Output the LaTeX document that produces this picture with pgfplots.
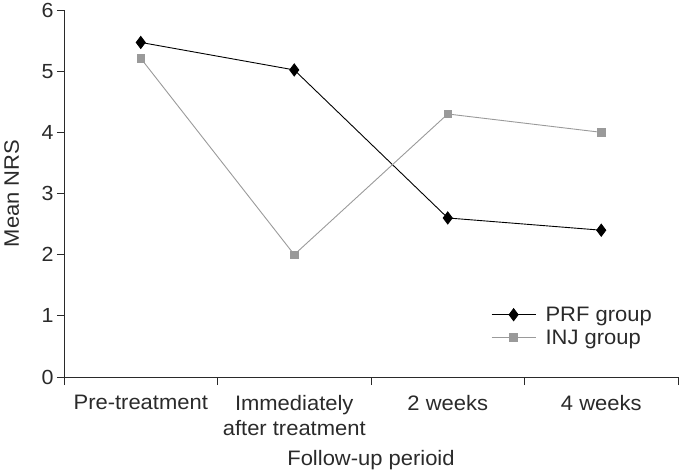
\documentclass[border=0pt]{standalone}
\usepackage{pgfplots}
\pgfplotsset{compat=1.18}
\usepackage{fontspec}
\setmainfont{Liberation Sans}[FakeStretch=1.05]
\definecolor{injgray}{HTML}{9A9A9A}
\definecolor{axgray}{HTML}{2A2A2A}
\begin{document}
\begin{tikzpicture}
\useasboundingbox (-64bp,-96bp) rectangle (616bp,377bp);
\begin{axis}[
  at={(0,0)}, anchor=south west,
  scale only axis,
  width=614bp, height=367bp,
  xmin=-0.5, xmax=3.5, ymin=0, ymax=6,
  axis lines*=left,
  axis line style={axgray, line width=0.9bp},
  tick style={axgray, line width=0.9bp},
  tick align=outside,
  xtick={0,1,2,3},
  xticklabels={Pre-treatment,{Immediately\\after treatment},2 weeks,4 weeks},
  xticklabel style={align=center, anchor=north, yshift=-7.5bp, font=\fontsize{21}{25}\selectfont, text=axgray},
  major x tick style={draw=none},
  minor xtick={-0.5,0.5,1.5,2.5,3.5},
  minor tick length=8bp,
  ytick={0,1,2,3,4,5,6},
  major tick length=7bp,
  yticklabel style={font=\fontsize{20.5}{24}\selectfont, text=axgray},
  /pgf/number format/assume math mode=true,
  xlabel={Follow-up perioid},
  ylabel={Mean NRS},
  label style={font=\fontsize{21}{25}\selectfont, text=axgray},
  xlabel style={at={(axis description cs:0.5,-0.2425)}, anchor=base},
  ylabel style={at={(axis description cs:-0.0733,0.5)}, anchor=base, rotate=0},
  legend style={draw=none, fill=none, at={(axis description cs:0.6954,0.196)}, anchor=north west,
    inner sep=0pt, nodes={inner sep=1.5bp}, row sep=4bp, column sep=8bp,
    font=\fontsize{21}{25}\selectfont, text=axgray},
  legend cell align=left,
  legend image code/.code={\draw[mark repeat=2,mark phase=2] plot coordinates {(0bp,0bp) (22bp,0bp) (44bp,0bp)};},
  clip=false,
]
\addplot[black, line width=0.9bp, mark=diamond*, mark size=6bp, mark options={fill=black}]
  coordinates {(0,5.47) (1,5.02) (2,2.6) (3,2.4)};
\addlegendentry{PRF group}
\addplot[injgray, line width=0.9bp, mark=square*, mark size=3.7bp, mark options={fill=injgray}]
  coordinates {(0,5.21) (1,2.0) (2,4.3) (3,4.0)};
\addlegendentry{INJ group}
\end{axis}
\end{tikzpicture}
\end{document}
